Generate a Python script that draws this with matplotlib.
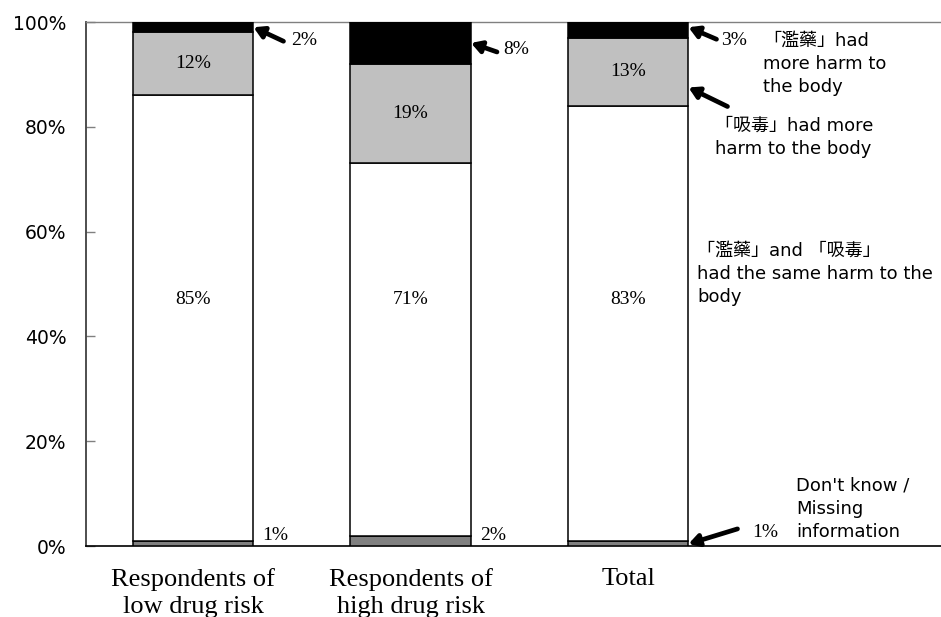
import matplotlib
matplotlib.use('Agg')
import matplotlib.pyplot as plt
import numpy as np

# Survey results: which causes more harm to the body, 「濫藥」 or 「吸毒」
categories = ['Respondents of\nlow drug risk', 'Respondents of\nhigh drug risk', 'Total']
missing_info = [1, 2, 1]      # Don't know / Missing information
same_harm = [85, 71, 83]      # 「濫藥」and「吸毒」had the same harm
xidu_more = [12, 19, 13]      # 「吸毒」had more harm
lanyao_more = [2, 8, 3]       # 「濫藥」had more harm
ytick_values = [0, 20, 40, 60, 80, 100]

SANS = ['DejaVu Sans', 'Noto Sans CJK TC']
SERIF = 'Liberation Serif'

W, H = 941, 617
fig = plt.figure(figsize=(W / 100, H / 100), dpi=100)
ax = fig.add_axes([86 / W, 71 / H, 855 / W, 524 / H])


def fig_pt(px, py):
    """Figure-fraction coordinates from pixel position (origin top-left)."""
    return px / W, 1 - py / H


x = np.arange(len(categories))
bw = 0.556
edge = dict(edgecolor='black', linewidth=1.1, zorder=3)

bottom = np.zeros(len(categories))
ax.bar(x, missing_info, bw, bottom=bottom, color='#808080', **edge)
bottom += missing_info
ax.bar(x, same_harm, bw, bottom=bottom, color='white', **edge)
bottom += same_harm
ax.bar(x, xidu_more, bw, bottom=bottom, color='#c0c0c0', **edge)
gray_base = bottom.copy()
bottom += xidu_more
ax.bar(x, lanyao_more, bw, bottom=bottom, color='black', **edge)

ax.set_xlim(-0.492, 3.439)
ax.set_ylim(0, 100)

pct_font = dict(family=SERIF, fontsize=14, color='black')

# labels inside the white and light-gray segments
for i in range(len(categories)):
    ax.text(x[i], 47, f'{same_harm[i]}%', ha='center', va='center', zorder=4, **pct_font)
    ax.text(x[i], gray_base[i] + xidu_more[i] / 2, f'{xidu_more[i]}%',
            ha='center', va='center', zorder=4, **pct_font)

# small bottom segments labelled beside the bar
for i in range(2):
    ax.annotate(f'{missing_info[i]}%', xy=(x[i] + bw / 2, 0), xytext=(9, 11),
                textcoords='offset pixels', ha='left', va='center', **pct_font)

arrow = dict(arrowstyle='-|>,head_length=0.6,head_width=0.35', lw=3.4,
             color='black', shrinkA=0, shrinkB=0)


def arrow_label(head, tail_off, text, text_off):
    ax.annotate('', xy=head, xytext=tail_off, textcoords='offset pixels',
                arrowprops=arrow, annotation_clip=False, zorder=5)
    if text:
        ax.annotate(text, xy=head, xytext=text_off, textcoords='offset pixels',
                    ha='left', va='center', annotation_clip=False, **pct_font)


arrow_label((x[0] + bw / 2, 99), (30, -14), f'{lanyao_more[0]}%', (38, -13))
arrow_label((x[1] + bw / 2, 96), (26, -9), f'{lanyao_more[1]}%', (32, -7))
arrow_label((x[2] + bw / 2, 99), (28, -12), f'{lanyao_more[2]}%', (33, -13))
arrow_label((x[2] + bw / 2, 87.5), (39, -19), '', None)
arrow_label((x[2] + bw / 2, 0.4), (49, 15), f'{missing_info[2]}%', (64, 11))

# series descriptions on the right
note_font = dict(family=SANS, fontsize=13, color='black', ha='left', va='center',
                 multialignment='left', linespacing=1.38)
fig.text(*fig_pt(763, 64), '「濫藥」had\nmore harm to\nthe body', **note_font)
fig.text(*fig_pt(715, 137), '「吸毒」had more\nharm to the body', **note_font)
fig.text(*fig_pt(697, 274), '「濫藥」and 「吸毒」\nhad the same harm to the\nbody', **note_font)
fig.text(*fig_pt(796, 509), "Don't know /\nMissing\ninformation", **note_font)

# axes styling
ax.set_yticks(ytick_values)
ax.set_yticklabels([f'{v}%' for v in ytick_values], family=SANS, fontsize=13.5)
ax.tick_params(axis='y', direction='in', length=6.5, width=1, color='#808080', pad=14)
ax.set_xticks(x)
ax.set_xticklabels(categories, family=SERIF, fontsize=19, linespacing=1.28)
ax.tick_params(axis='x', length=0, pad=16)

ax.spines['right'].set_visible(False)
ax.spines['top'].set_color('#808080')
ax.spines['top'].set_linewidth(1.0)
ax.spines['left'].set_color('#404040')
ax.spines['left'].set_linewidth(1.3)
ax.spines['bottom'].set_color('black')
ax.spines['bottom'].set_linewidth(1.2)

fig.savefig('out.png', dpi=100)
